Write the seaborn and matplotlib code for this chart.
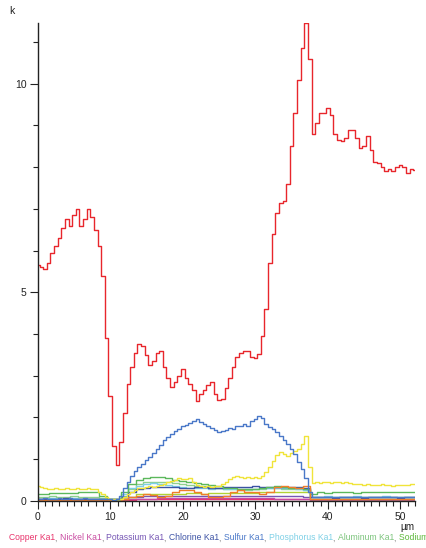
import numpy as np
import pandas as pd
import seaborn as sns
import matplotlib
matplotlib.use("Agg")
import matplotlib.pyplot as plt
from matplotlib.ticker import MultipleLocator

# ---------------- data ----------------
x_fine = np.arange(0, 52.01, 0.5)     # 105 samples (µm)
x_coarse = np.arange(0, 52.01, 1.0)   # 53 samples (µm)

red_main = [5.65, 5.6, 5.55, 5.7, 5.95, 6.1, 6.3, 6.55, 6.75, 6.6,
            6.85, 7.0, 6.6, 6.75, 7.0, 6.8, 6.5, 6.1, 5.4, 3.9,
            2.5, 1.3, 0.85, 1.4, 2.1, 2.8, 3.2, 3.55, 3.75, 3.7,
            3.5, 3.25, 3.35, 3.55, 3.6, 3.2, 2.95, 2.72, 2.85, 3.0,
            3.15, 2.95, 2.8, 2.65, 2.4, 2.55, 2.65, 2.78, 2.85, 2.55,
            2.42, 2.45, 2.7, 2.95, 3.2, 3.45, 3.55, 3.6, 3.6, 3.45,
            3.42, 3.52, 3.95, 4.6, 5.7, 6.4, 6.9, 7.14, 7.2, 7.6,
            8.5, 9.3, 10.1, 10.85, 11.45, 10.6, 8.8, 9.05, 9.3, 9.3,
            9.42, 9.25, 8.8, 8.65, 8.62, 8.7, 8.9, 8.9, 8.7, 8.45,
            8.5, 8.75, 8.42, 8.12, 8.1, 8.0, 7.9, 7.95, 7.9, 8.0,
            8.05, 8.0, 7.85, 7.95, 7.92]

sulfur = [0.05, 0.04, 0.06, 0.05, 0.05, 0.04, 0.06, 0.05, 0.05, 0.06,
          0.05, 0.04, 0.05, 0.06, 0.05, 0.05, 0.04, 0.05, 0.04, 0.03,
          0.03, 0.02, 0.05, 0.12, 0.3, 0.45, 0.6, 0.72, 0.8, 0.88,
          0.98, 1.05, 1.15, 1.25, 1.33, 1.45, 1.52, 1.6, 1.66, 1.72,
          1.78, 1.82, 1.86, 1.9, 1.95, 1.88, 1.85, 1.8, 1.74, 1.7,
          1.65, 1.68, 1.7, 1.75, 1.72, 1.8, 1.78, 1.85, 1.8, 1.9,
          1.95, 2.03, 1.98, 1.85, 1.77, 1.72, 1.65, 1.55, 1.45, 1.35,
          1.25, 1.12, 0.92, 0.75, 0.55, 0.2, 0.1, 0.09, 0.1, 0.08,
          0.1, 0.09, 0.1, 0.08, 0.09, 0.1, 0.09, 0.1, 0.08, 0.09,
          0.1, 0.09, 0.08, 0.1, 0.09, 0.1, 0.08, 0.09, 0.1, 0.09,
          0.08, 0.1, 0.09, 0.1, 0.09]

yellow_main = [0.35, 0.33, 0.3, 0.27, 0.28, 0.3, 0.27, 0.28, 0.3, 0.29,
               0.28, 0.3, 0.29, 0.28, 0.3, 0.29, 0.28, 0.22, 0.15, 0.08,
               0.05, 0.03, 0.03, 0.05, 0.1, 0.15, 0.2, 0.25, 0.3, 0.3,
               0.32, 0.35, 0.33, 0.35, 0.38, 0.4, 0.45, 0.48, 0.5, 0.55,
               0.53, 0.52, 0.55, 0.45, 0.38, 0.35, 0.33, 0.35, 0.33, 0.35,
               0.36, 0.4, 0.45, 0.52, 0.58, 0.6, 0.57, 0.55, 0.57, 0.55,
               0.56, 0.55, 0.6, 0.68, 0.8, 0.95, 1.1, 1.18, 1.12, 1.08,
               1.15, 1.2, 1.25, 1.35, 1.55, 0.8, 0.42, 0.45, 0.43, 0.44,
               0.45, 0.42, 0.44, 0.46, 0.43, 0.44, 0.42, 0.4, 0.41, 0.39,
               0.38, 0.39, 0.37, 0.38, 0.37, 0.39, 0.38, 0.37, 0.36, 0.38,
               0.37, 0.38, 0.37, 0.39, 0.4]

sodium = [0.16, 0.17, 0.18, 0.18, 0.19, 0.18, 0.2, 0.2, 0.21, 0.12,
          0.05, 0.05, 0.2, 0.4, 0.5, 0.55, 0.58, 0.57, 0.55, 0.5,
          0.48, 0.45, 0.42, 0.4, 0.38, 0.35, 0.3, 0.3, 0.28, 0.27,
          0.28, 0.3, 0.33, 0.35, 0.33, 0.3, 0.3, 0.28, 0.17, 0.2,
          0.19, 0.2, 0.21, 0.2, 0.19, 0.2, 0.21, 0.2, 0.2, 0.21,
          0.2, 0.21, 0.2]
aluminum = [0.1, 0.1, 0.11, 0.1, 0.1, 0.11, 0.1, 0.1, 0.1, 0.07,
            0.04, 0.04, 0.12, 0.28, 0.4, 0.45, 0.46, 0.45, 0.44, 0.42,
            0.4, 0.38, 0.36, 0.35, 0.33, 0.3, 0.28, 0.27, 0.26, 0.26,
            0.27, 0.28, 0.3, 0.3, 0.29, 0.28, 0.27, 0.25, 0.08, 0.08,
            0.09, 0.08, 0.08, 0.09, 0.08, 0.08, 0.09, 0.08, 0.08, 0.09,
            0.08, 0.08, 0.09]
phosphorus = [0.05, 0.05, 0.06, 0.05, 0.05, 0.06, 0.05, 0.05, 0.05, 0.04,
              0.03, 0.03, 0.15, 0.3, 0.35, 0.4, 0.42, 0.4, 0.38, 0.36,
              0.33, 0.3, 0.3, 0.3, 0.29, 0.3, 0.28, 0.28, 0.27, 0.28,
              0.28, 0.3, 0.3, 0.31, 0.3, 0.3, 0.29, 0.25, 0.1, 0.1,
              0.11, 0.1, 0.1, 0.1, 0.11, 0.1, 0.1, 0.1, 0.11, 0.1,
              0.1, 0.1, 0.1]
chlorine = [0.05, 0.05, 0.05, 0.05, 0.06, 0.05, 0.05, 0.05, 0.05, 0.05,
            0.04, 0.03, 0.1, 0.2, 0.28, 0.3, 0.32, 0.32, 0.32, 0.32,
            0.3, 0.3, 0.32, 0.33, 0.31, 0.3, 0.32, 0.32, 0.33, 0.32,
            0.35, 0.33, 0.32, 0.32, 0.33, 0.32, 0.32, 0.3, 0.08, 0.08,
            0.08, 0.07, 0.08, 0.08, 0.08, 0.07, 0.08, 0.08, 0.08, 0.08,
            0.07, 0.08, 0.08]
orange = [0.02, 0.02, 0.02, 0.02, 0.02, 0.02, 0.02, 0.02, 0.02, 0.02,
          0.01, 0.0, 0.05, 0.1, 0.12, 0.15, 0.13, 0.1, 0.12, 0.22,
          0.25, 0.25, 0.22, 0.15, 0.1, 0.08, 0.12, 0.2, 0.25, 0.22,
          0.2, 0.15, 0.2, 0.32, 0.35, 0.33, 0.3, 0.35, 0.03, 0.03,
          0.04, 0.03, 0.03, 0.04, 0.03, 0.03, 0.04, 0.03, 0.03, 0.04,
          0.03, 0.03, 0.03]
yellowgreen = [0.03, 0.03, 0.03, 0.03, 0.03, 0.03, 0.03, 0.03, 0.03, 0.03,
               0.02, 0.02, 0.05, 0.1, 0.15, 0.15, 0.16, 0.15, 0.15, 0.16,
               0.15, 0.18, 0.18, 0.17, 0.18, 0.18, 0.19, 0.18, 0.18, 0.18,
               0.18, 0.2, 0.2, 0.21, 0.2, 0.2, 0.2, 0.2, 0.05, 0.05,
               0.05, 0.05, 0.05, 0.05, 0.05, 0.05, 0.05, 0.05, 0.05, 0.05,
               0.05, 0.05, 0.05]
potassium = [0.04, 0.04, 0.04, 0.04, 0.04, 0.04, 0.04, 0.04, 0.04, 0.04,
             0.03, 0.03, 0.05, 0.08, 0.1, 0.11, 0.12, 0.12, 0.12, 0.12,
             0.12, 0.12, 0.12, 0.11, 0.11, 0.12, 0.12, 0.12, 0.12, 0.12,
             0.12, 0.12, 0.12, 0.12, 0.12, 0.11, 0.11, 0.1, 0.04, 0.04,
             0.04, 0.04, 0.04, 0.04, 0.04, 0.04, 0.04, 0.04, 0.04, 0.04,
             0.04, 0.04, 0.04]
nickel = [0.03, 0.03, 0.03, 0.03, 0.03, 0.03, 0.03, 0.03, 0.03, 0.03,
          0.02, 0.02, 0.03, 0.04, 0.05, 0.05, 0.05, 0.06, 0.06, 0.06,
          0.07, 0.07, 0.07, 0.07, 0.06, 0.06, 0.06, 0.07, 0.07, 0.06,
          0.06, 0.06, 0.06, 0.05, 0.05, 0.05, 0.05, 0.05, 0.02, 0.02,
          0.02, 0.02, 0.02, 0.02, 0.02, 0.02, 0.02, 0.02, 0.02, 0.02,
          0.02, 0.02, 0.02]
copper = [0.02, 0.02, 0.02, 0.02, 0.02, 0.02, 0.02, 0.02, 0.02, 0.02,
          0.01, 0.01, 0.02, 0.02, 0.03, 0.03, 0.03, 0.03, 0.04, 0.04,
          0.04, 0.04, 0.04, 0.04, 0.04, 0.04, 0.04, 0.04, 0.04, 0.04,
          0.04, 0.04, 0.04, 0.04, 0.04, 0.04, 0.04, 0.03, 0.01, 0.01,
          0.01, 0.01, 0.01, 0.01, 0.01, 0.01, 0.01, 0.01, 0.01, 0.01,
          0.01, 0.01, 0.01]

legend_names = ["Copper Ka1", "Nickel Ka1", "Potassium Ka1", "Chlorine Ka1",
                "Sulfur Ka1", "Phosphorus Ka1", "Aluminum Ka1", "Sodium Ka1"]
legend_colors = ["#e8336b", "#c84aa0", "#7656b4", "#3c52a4",
                 "#4a78c8", "#7fd0e6", "#7cc47c", "#5cb83a"]

# ---------------- figure ----------------
sns.set_style("white")
plt.rcParams['font.family'] = ['Liberation Sans', 'DejaVu Sans']

fig = plt.figure(figsize=(4.27, 5.48), dpi=100)
ax = fig.add_axes([37.7 / 427, 47.3 / 548, (415 - 37.7) / 427, (500.7 - 23.3) / 548])

series = [
    (x_coarse, copper, "#e8336b"),
    (x_coarse, nickel, "#c84aa0"),
    (x_coarse, potassium, "#7656b4"),
    (x_coarse, yellowgreen, "#b2d236"),
    (x_coarse, aluminum, "#8fd08f"),
    (x_coarse, phosphorus, "#7fd0e6"),
    (x_coarse, chlorine, "#3c52a4"),
    (x_coarse, sodium, "#5cb85c"),
    (x_coarse, orange, "#f07d2a"),
    (x_fine, yellow_main, "#f0e43a"),
    (x_fine, sulfur, "#4a78c8"),
    (x_fine, red_main, "#e8262c"),
]
for xs, ys, col in series:
    sns.lineplot(x=xs, y=ys, color=col, linewidth=1.0, drawstyle="steps-mid",
                 ax=ax, legend=False, estimator=None, sort=False)

ax.set_xlim(0, 52)
ax.set_ylim(0, 11.45)
ax.xaxis.set_major_locator(MultipleLocator(10))
ax.xaxis.set_minor_locator(MultipleLocator(1))
ax.yaxis.set_major_locator(MultipleLocator(5))
ax.yaxis.set_minor_locator(MultipleLocator(1))
ax.tick_params(which="major", direction="out", length=6, width=0.8,
               color="#222222", labelsize=7.5, labelcolor="#222222", pad=2,
               bottom=True, left=True)
ax.tick_params(which="minor", direction="out", length=3.5, width=0.8,
               color="#222222", bottom=True, left=True)
for s in ["top", "right"]:
    ax.spines[s].set_visible(False)
for s in ["left", "bottom"]:
    ax.spines[s].set_color("#222222")
    ax.spines[s].set_linewidth(1.0)
ax.set_xlabel("")
ax.set_ylabel("")

fig.text(9 / 427, 1 - 11 / 548, "k", fontsize=7.5, color="#222222",
         ha="left", va="center")
fig.text(407 / 427, 1 - 527 / 548, "µm", fontsize=7.2, color="#222222",
         ha="center", va="center")

# colored legend line (runs off the right edge, as in the original export)
fig.canvas.draw()
renderer = fig.canvas.get_renderer()
xpos = 9 / 427
ypos = 1 - 538 / 548
for i, (name, col) in enumerate(zip(legend_names, legend_colors)):
    t = fig.text(xpos, ypos, name, fontsize=6.2, color=col, ha="left", va="center")
    bb = t.get_window_extent(renderer)
    xpos += bb.width / fig.bbox.width
    if i < len(legend_names) - 1:
        c = fig.text(xpos, ypos, ", ", fontsize=6.2, color="#888888", ha="left", va="center")
        bb = c.get_window_extent(renderer)
        xpos += bb.width / fig.bbox.width

fig.savefig("out.png", dpi=100)
